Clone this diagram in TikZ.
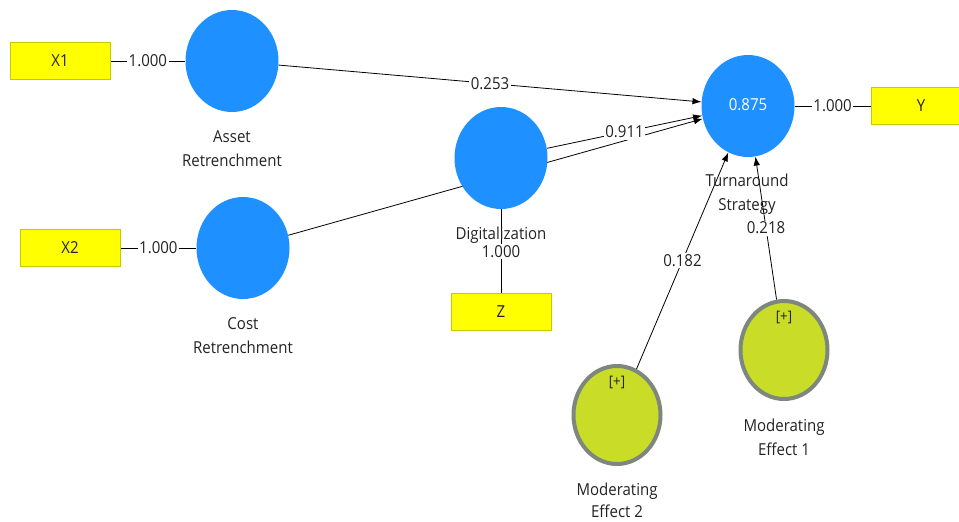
\documentclass[tikz,border=0pt]{standalone}
\usepackage{fontspec}
\setmainfont[FakeStretch=0.91]{Open Sans}
\usetikzlibrary{arrows.meta,shapes.geometric,backgrounds}
\definecolor{lvblue}{RGB}{30,144,255}
\definecolor{modfill}{RGB}{200,220,40}
\definecolor{modgray}{RGB}{125,135,125}
\definecolor{indfill}{RGB}{255,255,0}
\definecolor{indborder}{RGB}{200,200,0}
\definecolor{textgray}{RGB}{35,35,35}
\tikzset{
  lv/.style={ellipse, fill=lvblue, minimum width=93pt, minimum height=102pt, inner sep=0pt},
  mv/.style={ellipse, fill=modfill, draw=modgray, line width=4pt, minimum width=87pt, minimum height=98pt, inner sep=0pt},
  ind/.style={rectangle, fill=indfill, draw=indborder, line width=0.8pt, minimum width=100pt, minimum height=37pt, inner sep=0pt, text=textgray},
  wlab/.style={fill=white, inner sep=1.5pt, text=textgray},
  txt/.style={align=center, text=textgray, inner sep=0pt},
  conn/.style={draw=black, line width=0.8pt},
  arr/.style={conn, -{Latex[length=9pt,width=6.5pt]}}
}
\begin{document}
\begin{tikzpicture}[x=1pt,y=-1pt,font=\fontsize{16.5}{24}\selectfont]
\useasboundingbox (0,0) rectangle (959,522);
% indicators
\node[ind] (x1) at (60,61) {X1};
\node[ind] (x2) at (70,248) {X2};
\node[ind] (z) at (501,312) {Z};
\node[ind] (y) at (921,106) {Y};
% latent variables
\node[lv] (asset) at (232,61) {};
\node[lv] (cost) at (243,248) {};
\node[lv] (dig) at (501,158) {};
\node[lv, text=white] (turn) at (748,106) {\raisebox{3pt}{0.875}};
\node[mv] (me1) at (784,350) {};
\node[mv] (me2) at (617,415) {};
% captions
\node[txt] (capasset) at (232,149) {Asset\\Retrenchment};
\node[txt] (capcost) at (243,336) {Cost\\Retrenchment};
\node[txt] (capdig) at (501,235) {Digitalization};
\node[txt] (capturn) at (747,194) {Turnaround\\Strategy};
\node[txt] (capme1) at (784,437.5) {Moderating\\Effect 1};
\node[txt, font=\fontsize{16.5}{22}\selectfont] (capme2) at (617,500) {Moderating\\Effect 2};
\node[txt, font=\fontsize{14.5}{16}\selectfont] (plus1) at (784,317) {[+]};
\node[txt, font=\fontsize{14.5}{16}\selectfont] (plus2) at (617,382) {[+]};
% connectors
\begin{scope}[on background layer]
\draw[conn] (x1) -- node[wlab] {1.000} (asset);
\draw[conn] (x2) -- node[wlab] {1.000} (cost);
\draw[conn] (turn) -- node[wlab] {1.000} (y);
\draw[conn] (dig) -- node[wlab] {1.000} (z);
\draw[arr] (cost) -- (turn);
\draw[arr] (asset) -- node[wlab] {0.253} (turn);
\draw[arr] (dig) -- node[wlab] {0.911} (turn);
\draw[arr] (me2) -- node[wlab] {0.182} (turn);
\draw[arr] (me1) -- node[wlab] {0.218} (turn);
\end{scope}
\end{tikzpicture}
\end{document}
